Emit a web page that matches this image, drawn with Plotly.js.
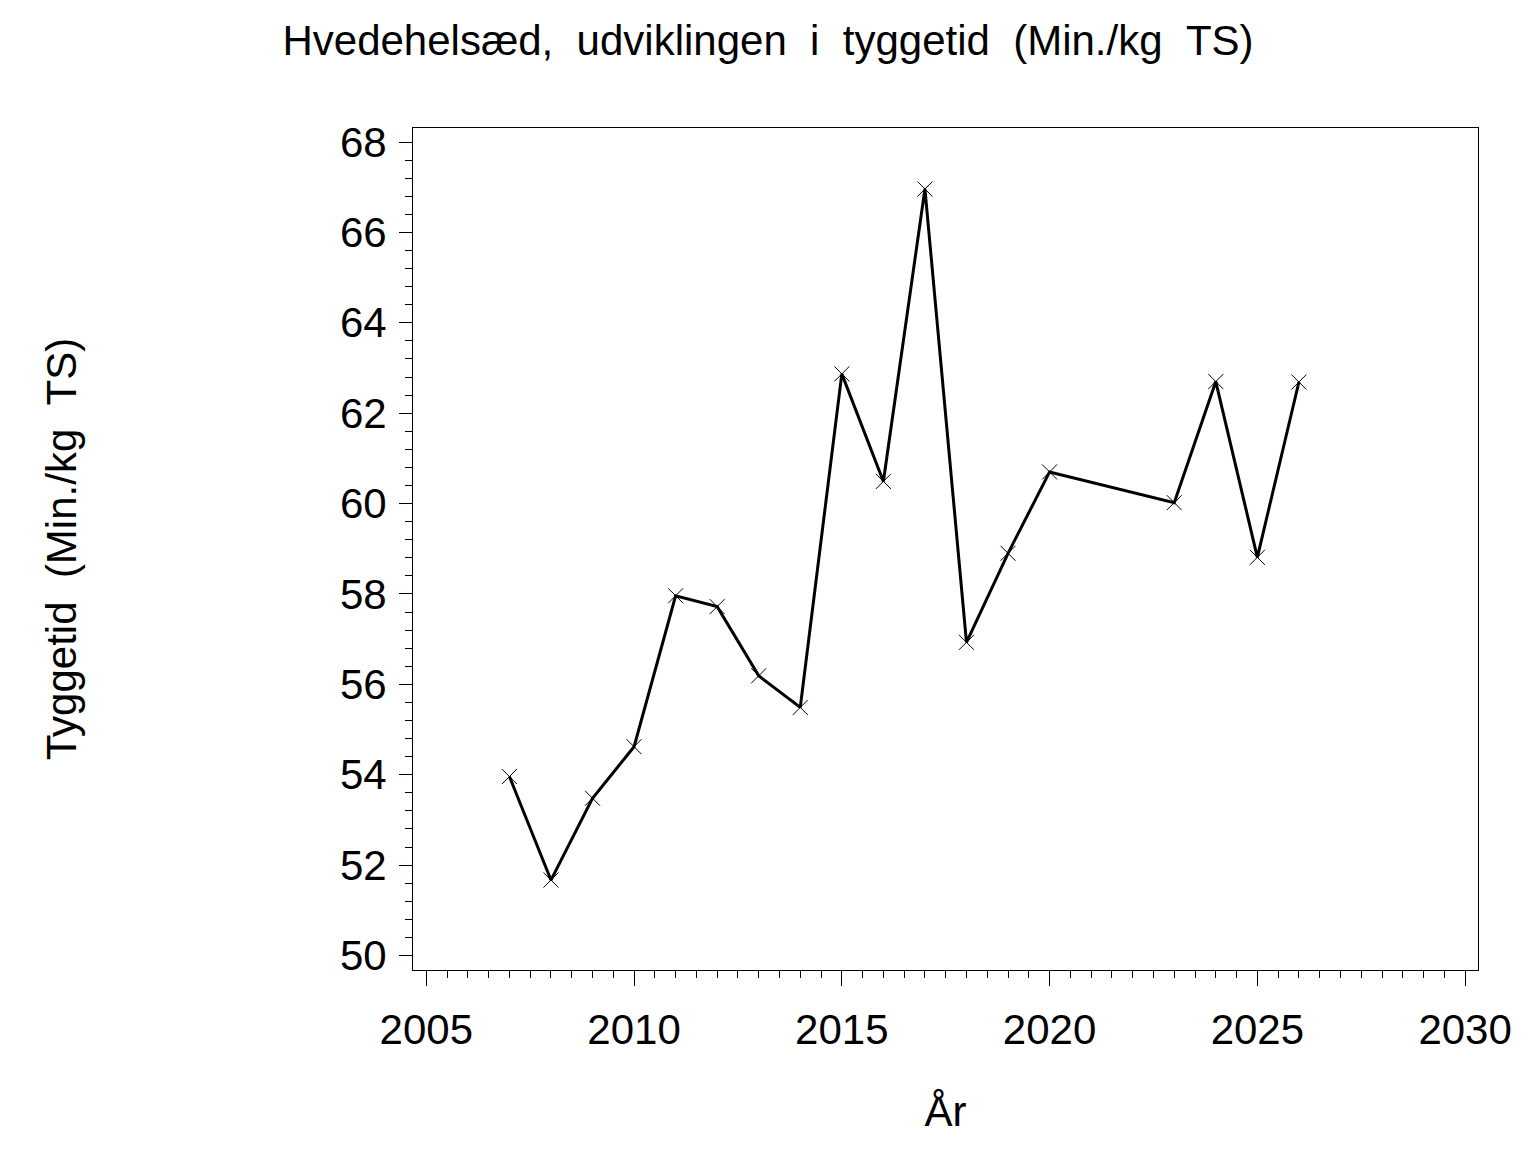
<!DOCTYPE html>
<html>
<head>
<meta charset="utf-8">
<script src="https://cdn.plot.ly/plotly-3.0.1.min.js"></script>
<style>
  html, body { margin: 0; padding: 0; background: #fff; }
  #chart { width: 1536px; height: 1152px; }
</style>
</head>
<body>
<div id="chart"></div>
<script>
// years and chewing time (Min./kg TS)
var years = [2007, 2008, 2009, 2010, 2011, 2012, 2013, 2014, 2015, 2016, 2017, 2018, 2019, 2020, 2023, 2024, 2025, 2026];
var tyggetid = [53.96, 51.67, 53.48, 54.62, 57.96, 57.72, 56.19, 55.49, 62.87, 60.49, 66.96, 56.93, 58.90, 60.70, 60.02, 62.70, 58.81, 62.69];

var xTicks = [2005, 2010, 2015, 2020, 2025, 2030];
var yTicks = [50, 52, 54, 56, 58, 60, 62, 64, 66, 68];

var sp = '\u00a0\u00a0';
var titleText = ['Hvedehelsæd,', 'udviklingen', 'i', 'tyggetid', '(Min./kg', 'TS)'].join(sp);
var yTitle = ['Tyggetid', '(Min./kg', 'TS)'].join(sp);

var font = 'Liberation Sans, Arial, sans-serif';

var trace = {
    x: years,
    y: tyggetid,
    type: 'scatter',
    mode: 'lines+markers',
    line: {color: 'black', width: 3},
    marker: {symbol: 'x-thin-open', size: 15, color: 'black', line: {color: 'black', width: 1}},
    hoverinfo: 'none'
};

var layout = {
    width: 1536,
    height: 1152,
    margin: {l: 413, r: 58, t: 128, b: 182, pad: 0},
    paper_bgcolor: 'white',
    plot_bgcolor: 'white',
    showlegend: false,
    font: {family: font, color: 'black', size: 41},
    title: {
        text: titleText,
        font: {family: font, size: 42, color: 'black'},
        x: 0.5, xref: 'container', xanchor: 'center',
        y: 0.965, yref: 'container', yanchor: 'middle'
    },
    xaxis: {
        range: [2004.68, 2030.31],
        tickmode: 'array',
        tickvals: xTicks,
        ticktext: xTicks.map(String),
        ticks: 'outside',
        ticklen: 15,
        tickwidth: 1,
        tickcolor: 'black',
        minor: {dtick: 0.5, tick0: 2005, ticks: 'outside', ticklen: 7, tickwidth: 1, tickcolor: 'black', showgrid: false},
        showgrid: false,
        zeroline: false,
        showline: true,
        linecolor: 'black',
        linewidth: 1,
        mirror: true,
        tickfont: {family: font, size: 42, color: 'black'},
        ticklabelstandoff: 8,
        title: {text: 'År', font: {family: font, size: 42, color: 'black'}, standoff: 44}
    },
    yaxis: {
        range: [49.68, 68.31],
        tickmode: 'array',
        tickvals: yTicks,
        ticktext: yTicks.map(String),
        ticks: 'outside',
        ticklen: 13,
        tickwidth: 1,
        tickcolor: 'black',
        minor: {dtick: 0.4, tick0: 50, ticks: 'outside', ticklen: 7, tickwidth: 1, tickcolor: 'black', showgrid: false},
        showgrid: false,
        zeroline: false,
        showline: true,
        linecolor: 'black',
        linewidth: 1,
        mirror: true,
        tickfont: {family: font, size: 42, color: 'black'},
        ticklabelstandoff: 4,
        title: {text: yTitle, font: {family: font, size: 42, color: 'black'}, standoff: 250}
    }
};

Plotly.newPlot(document.getElementById('chart'), [trace], layout, {displayModeBar: false, staticPlot: true});
</script>
</body>
</html>
